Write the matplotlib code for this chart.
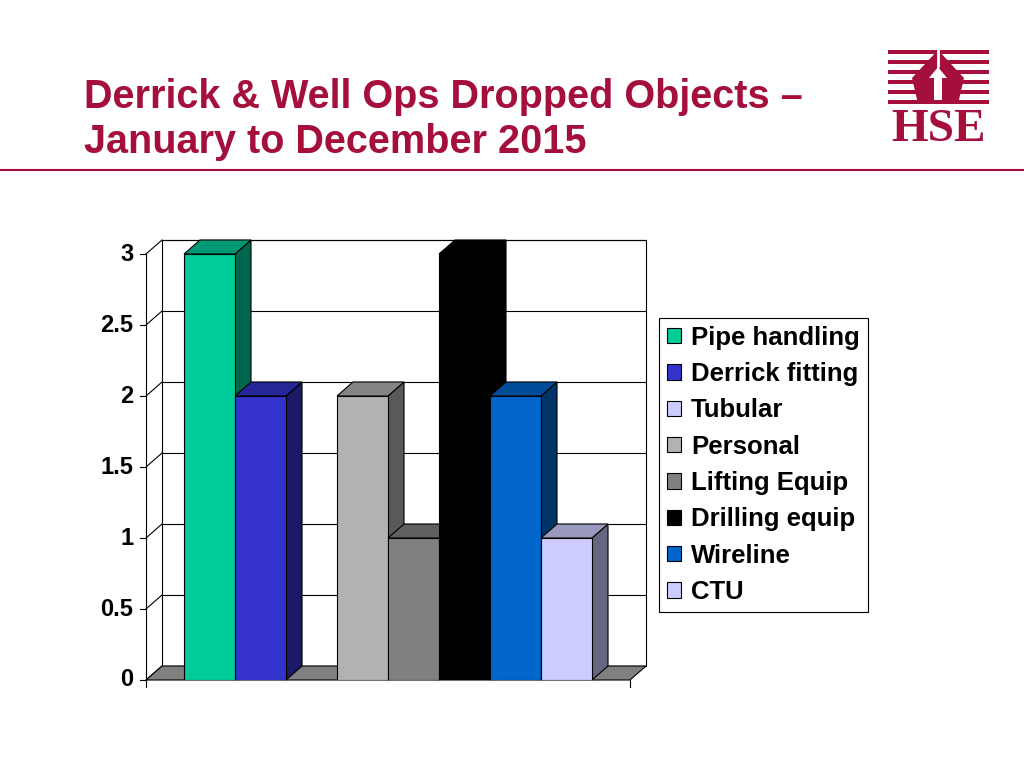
import matplotlib.pyplot as plt
from matplotlib.patches import Polygon, Patch, Rectangle
import matplotlib.colors as mcolors

series = ['Pipe handling', 'Derrick fitting', 'Tubular', 'Personal',
          'Lifting Equip', 'Drilling equip', 'Wireline', 'CTU']
counts = [3, 2, 0, 2, 1, 3, 2, 1]
colors = ['#00CC99', '#3333CC', '#CCCCFF', '#B2B2B2',
          '#808080', '#000000', '#0066CC', '#CCCCFF']
yticks = [0, 0.5, 1, 1.5, 2, 2.5, 3]
ytick_labels = ['0', '0.5', '1', '1.5', '2', '2.5', '3']
title_lines = ['Derrick & Well Ops Dropped Objects –', 'January to December 2015']
crimson = '#A50F3C'

plt.rcParams['font.family'] = ['Liberation Sans', 'DejaVu Sans']


def shade(c, f):
    r, g, b = mcolors.to_rgb(c)
    return (r * f, g * f, b * f)


fig = plt.figure(figsize=(10.24, 7.68), dpi=100)

# page decorations (pixel coords)
deco = fig.add_axes([0, 0, 1, 1], zorder=0)
deco.set_xlim(0, 1024)
deco.set_ylim(768, 0)
deco.axis('off')
for yy, line in zip([97, 142], title_lines):
    deco.text(84, yy, line, color=crimson, fontsize=28.5, fontweight='bold',
              va='center', ha='left')
deco.plot([0, 1024], [170, 170], color=crimson, lw=1.5)

# HSE logo
for yy in [52, 62, 72, 82, 92, 102]:
    deco.add_patch(Rectangle((888, yy - 1.6), 101, 3.2, color=crimson, lw=0))
deco.add_patch(Polygon([(912, 78), (938, 50), (964, 78), (958, 104), (918, 104)],
                       closed=True, color=crimson, lw=0))
deco.add_patch(Polygon([(929, 78), (938, 67), (947, 78), (942, 78), (942, 100),
                        (934, 100), (934, 78)], closed=True, color='white', lw=0))
deco.plot([938, 938], [50, 66], color='white', lw=2)
deco.text(939, 130, 'HSE', family='Liberation Serif', fontweight='bold',
          fontsize=34, color=crimson, ha='center', va='center')

# 3d-looking chart
ax = fig.add_axes([146 / 1024, 88 / 768, 500 / 1024, 440 / 768], zorder=1)
xl, xr = -0.745, 8.745
dx, dy = 0.314, 0.0986
ax.set_xlim(xl, xr + dx)
ax.set_ylim(0, 3 + dy)
ax.axis('off')

# back wall and gridlines
ax.add_patch(Polygon([(xl + dx, dy), (xr + dx, dy), (xr + dx, 3 + dy), (xl + dx, 3 + dy)],
                     closed=True, facecolor='white', edgecolor='black', lw=0.8, zorder=1,
                     clip_on=False))
for t in yticks:
    ax.plot([xl + dx, xr + dx], [t + dy, t + dy], color='black', lw=0.8, zorder=1,
            clip_on=False)
    ax.plot([xl, xl + dx], [t, t + dy], color='black', lw=0.8, zorder=1, clip_on=False)
    ax.plot([xl - 0.12, xl], [t, t], color='black', lw=0.8, zorder=1, clip_on=False)
for t, lab in zip(yticks, ytick_labels):
    ax.text(xl - 0.25, t, lab, ha='right', va='center', fontsize=17,
            fontweight='bold', clip_on=False)
ax.plot([xl, xl], [0, 3], color='black', lw=0.8, zorder=1, clip_on=False)

# floor
ax.add_patch(Polygon([(xl, 0), (xr, 0), (xr + dx, dy), (xl + dx, dy)], closed=True,
                     facecolor='#808080', edgecolor='black', lw=0.8, zorder=2,
                     clip_on=False))
ax.plot([xl, xl], [0, -0.05], color='black', lw=0.8, clip_on=False)
ax.plot([xr, xr], [0, -0.05], color='black', lw=0.8, clip_on=False)

# bars
for i, (v, c) in enumerate(zip(counts, colors)):
    if v == 0:
        continue
    z = 3 + i * 0.1
    ax.add_patch(Polygon([(i + 1, 0), (i + 1 + dx, dy), (i + 1 + dx, v + dy), (i + 1, v)],
                         closed=True, facecolor=shade(c, 0.5), edgecolor='black', lw=0.8,
                         zorder=z, clip_on=False))
    ax.bar(i, v, width=1, align='edge', color=c, edgecolor='black', lw=0.8, zorder=z + 0.01)
    ax.add_patch(Polygon([(i, v), (i + 1, v), (i + 1 + dx, v + dy), (i + dx, v + dy)],
                         closed=True, facecolor=shade(c, 0.75), edgecolor='black', lw=0.8,
                         zorder=z + 0.02, clip_on=False))

handles = [Patch(facecolor=c, edgecolor='black', lw=0.8) for c in colors]
leg = fig.legend(handles, series, loc='upper left', bbox_to_anchor=(659 / 1024, 1 - 318 / 768),
                 borderaxespad=0, fancybox=False, edgecolor='black', framealpha=1,
                 prop={'weight': 'bold', 'size': 18.5}, handlelength=0.55, handleheight=0.55,
                 handletextpad=0.4, labelspacing=0.48, borderpad=0.3)
leg.get_frame().set_linewidth(0.8)

fig.savefig('out.png', dpi=100)
